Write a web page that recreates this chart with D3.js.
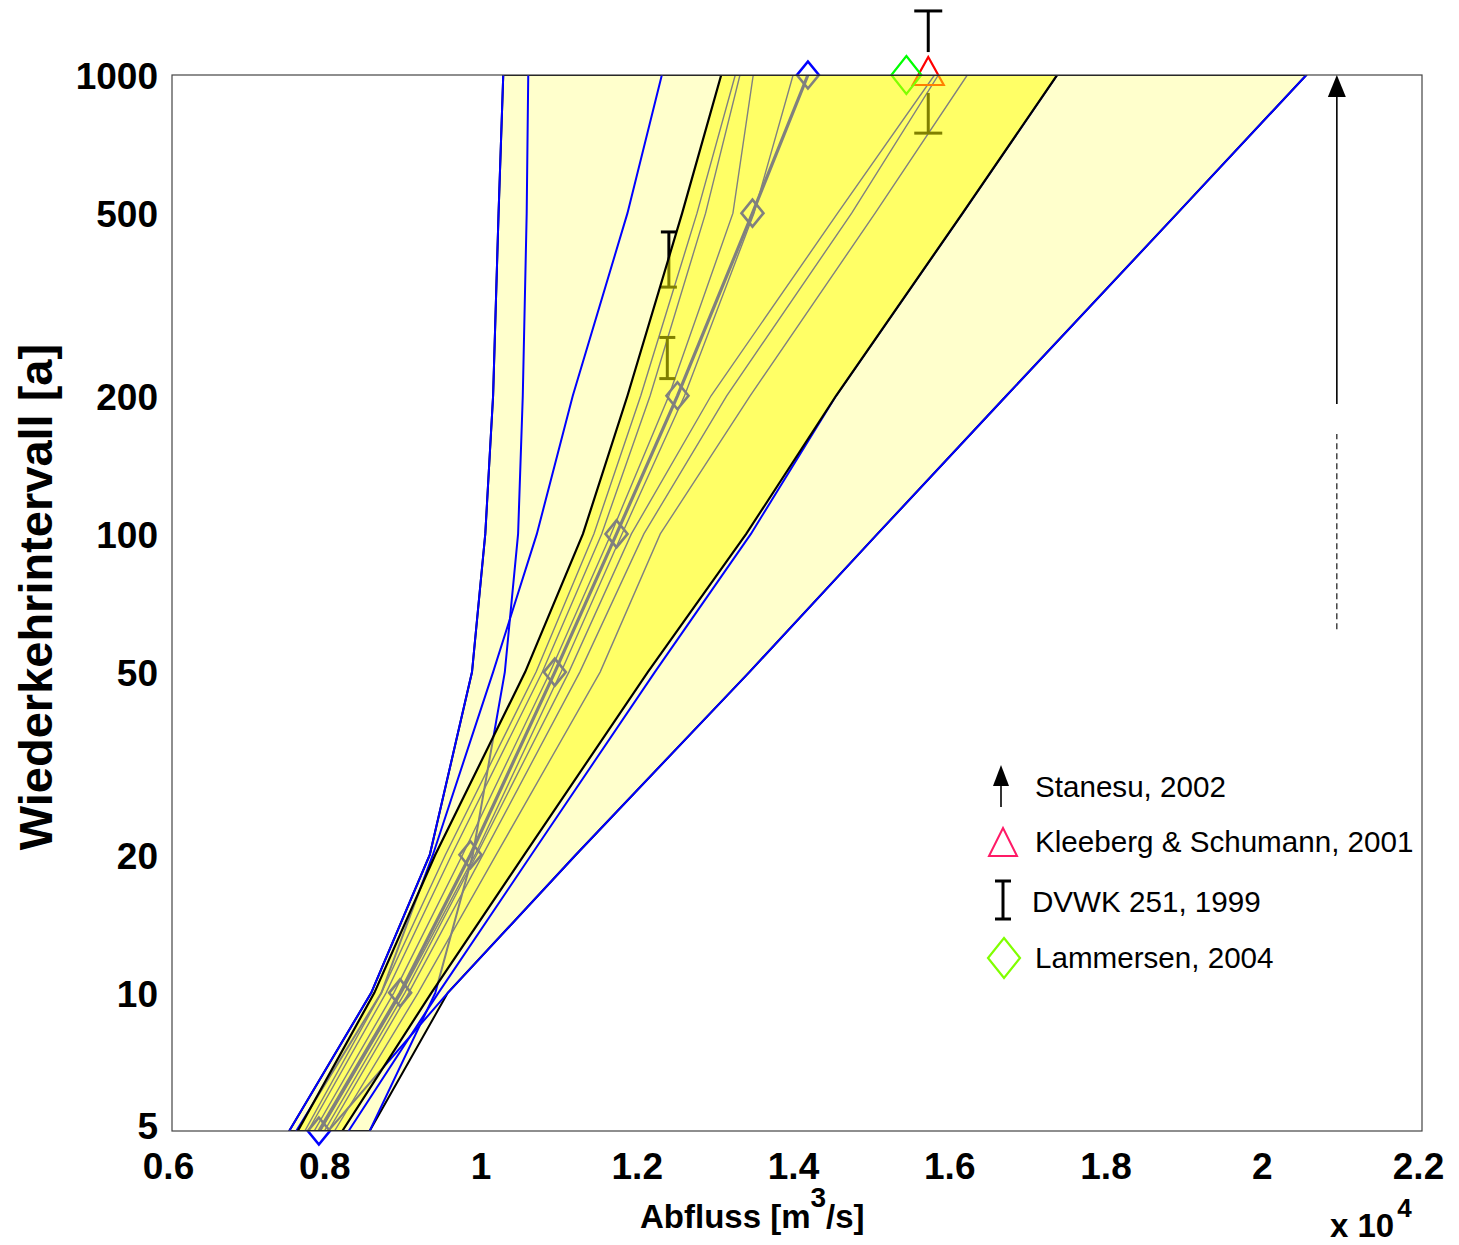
<!DOCTYPE html>
<html>
<head>
<meta charset="utf-8">
<script src="https://cdnjs.cloudflare.com/ajax/libs/d3/7.8.5/d3.min.js"></script>
<style>
  body { margin: 0; background: #fff; }
  text { font-family: "Liberation Sans", Arial, sans-serif; }
</style>
</head>
<body>
<div id="chart"></div>
<script>
// return periods (y axis, log) and discharges in 10^4 m3/s
var returnPeriods = [5, 10, 20, 50, 100, 200, 500, 1000];

// main fit (thick line with diamonds)
var mainFit   = [0.788, 0.892, 0.982, 1.090, 1.169, 1.247, 1.343, 1.414];
// yellow band bounds
var bandLow   = [0.761, 0.859, 0.937, 1.052, 1.126, 1.183, 1.253, 1.303];
var bandHigh  = [0.818, 0.932, 1.051, 1.209, 1.335, 1.450, 1.612, 1.733];

// other fitted curves (blue)
var curveA = [0.750, 0.855, 0.930, 0.984, 1.001, 1.011, 1.018, 1.024];
var curveB = [0.853, 0.937, 0.985, 1.026, 1.043, 1.049, 1.054, 1.056];
var curveC = [0.759, 0.868, 0.934, 1.011, 1.067, 1.113, 1.183, 1.227];
var curveD = [0.800, 0.953, 1.117, 1.339, 1.503, 1.668, 1.887, 2.052];
var curveE = [0.826, 0.941, 1.060, 1.218, 1.341, 1.450, 1.612, 1.733];
var fitA = [0.770, 0.868, 0.950, 1.066, 1.140, 1.200, 1.272, 1.321];
var fitB = [0.774, 0.874, 0.958, 1.074, 1.150, 1.212, 1.283, 1.327];
var fitC = [0.782, 0.884, 0.972, 1.084, 1.162, 1.236, 1.318, 1.344];
var fitD = [0.790, 0.894, 0.988, 1.098, 1.176, 1.256, 1.345, 1.395];
var fitE = [0.795, 0.898, 0.990, 1.108, 1.188, 1.290, 1.452, 1.576];
var fitF = [0.800, 0.903, 0.998, 1.122, 1.204, 1.310, 1.470, 1.581];
var fitG = [0.808, 0.915, 1.015, 1.148, 1.225, 1.340, 1.500, 1.618];

// literature values
var dvwkQ     = [1.568, 1.236, 1.234];
var dvwkLow   = [747, 345, 218];
var dvwkHigh  = [1379, 455, 268];
var dvwkGap   = [[914, 1122], null, null];
var kleebergQ = 1.568, kleebergT = 1000;
var lammersenQ = 1.540, lammersenT = 1000;
var stanesuQ = 2.091, stanesuSolid = [192, 1000], stanesuDashed = [62, 165];

var xTicks = [0.6, 0.8, 1.0, 1.2, 1.4, 1.6, 1.8, 2.0, 2.2];
var yTicks = [5, 10, 20, 50, 100, 200, 500, 1000];

var legendLabels = ["Stanesu, 2002", "Kleeberg & Schumann, 2001", "DVWK 251, 1999", "Lammersen, 2004"];

// ---------------------------------------------------------------
var W = 1459, H = 1245;
var margin = { top: 75, right: 37, bottom: 114, left: 172 };
var width = W - margin.left - margin.right,
    height = H - margin.top - margin.bottom;

var svg = d3.select("#chart").append("svg")
    .attr("width", W)
    .attr("height", H);

var g = svg.append("g")
    .attr("transform", "translate(" + margin.left + "," + margin.top + ")");

var x = d3.scaleLinear().domain([0.6, 2.2]).range([0, width]);
var y = d3.scaleLog().domain([5, 1000]).range([height, 0]);

svg.append("defs").append("clipPath").attr("id", "plotClip")
  .append("rect").attr("width", width).attr("height", height);

function rows(vals) {
    return returnPeriods.map(function(t, i) { return { t: t, q: vals[i] }; });
}

var line = d3.line()
    .x(function(d) { return x(d.q); })
    .y(function(d) { return y(d.t); });

var blueCurves = [curveA, curveB, curveC, curveD, curveE,
                  fitA, fitB, fitC, fitD, fitE, fitF, fitG];
var allCurves = blueCurves.concat([mainFit]);

// outer envelope (light yellow)
var envelope = returnPeriods.map(function(t, i) {
    return { t: t,
             lo: d3.min(allCurves, function(c) { return c[i]; }),
             hi: d3.max(allCurves, function(c) { return c[i]; }) };
});
var band = returnPeriods.map(function(t, i) {
    return { t: t, lo: bandLow[i], hi: bandHigh[i] };
});

var area = d3.area()
    .y(function(d) { return y(d.t); })
    .x0(function(d) { return x(d.lo); })
    .x1(function(d) { return x(d.hi); });

var clipped = g.append("g").attr("clip-path", "url(#plotClip)");

clipped.append("path")
    .datum(envelope)
    .attr("d", area)
    .attr("fill", "#ffffcc")
    .attr("stroke", "#000")
    .attr("stroke-width", 2);

clipped.selectAll(".fit")
    .data(blueCurves)
    .enter().append("path")
    .attr("class", "fit")
    .attr("d", function(c) { return line(rows(c)); })
    .attr("fill", "none")
    .attr("stroke", "#0000ff")
    .attr("stroke-width", function(c, i) { return i < 5 ? 2 : 1.4; });

clipped.append("path")
    .datum(rows(mainFit))
    .attr("d", line)
    .attr("fill", "none")
    .attr("stroke", "#0000ff")
    .attr("stroke-width", 3.2);

function diamond(hw, hh) {
    return "M0," + (-hh) + "L" + hw + ",0L0," + hh + "L" + (-hw) + ",0Z";
}

// markers of the main fit (not clipped)
g.selectAll(".mk")
    .data(rows(mainFit))
    .enter().append("path")
    .attr("class", "mk")
    .attr("transform", function(d) { return "translate(" + x(d.q) + "," + y(d.t) + ")"; })
    .attr("d", diamond(11, 13.5))
    .attr("fill", "none")
    .attr("stroke", "#0000ff")
    .attr("stroke-width", 2.6);

// DVWK error bars
var capW = [28, 16, 16];
dvwkQ.forEach(function(q, i) {
    var bx = x(q);
    var segs = dvwkGap[i] ? [[dvwkLow[i], dvwkGap[i][0]], [dvwkGap[i][1], dvwkHigh[i]]]
                          : [[dvwkLow[i], dvwkHigh[i]]];
    segs.forEach(function(s) {
        g.append("line").attr("x1", bx).attr("x2", bx)
            .attr("y1", y(s[0])).attr("y2", y(s[1]))
            .attr("stroke", "#000").attr("stroke-width", 3);
    });
    [dvwkLow[i], dvwkHigh[i]].forEach(function(t) {
        g.append("line")
            .attr("x1", bx - capW[i] / 2).attr("x2", bx + capW[i] / 2)
            .attr("y1", y(t)).attr("y2", y(t))
            .attr("stroke", "#000").attr("stroke-width", 3);
    });
});

// Kleeberg triangle
g.append("path")
    .attr("transform", "translate(" + x(kleebergQ) + "," + y(kleebergT) + ")")
    .attr("d", "M0,-18L15.5,10L-15.5,10Z")
    .attr("fill", "none").attr("stroke", "#ff0000").attr("stroke-width", 2.2);

// Lammersen diamond
g.append("path")
    .attr("transform", "translate(" + x(lammersenQ) + "," + y(lammersenT) + ")")
    .attr("d", diamond(15, 19))
    .attr("fill", "none").attr("stroke", "#00ff00").attr("stroke-width", 2.2);

// yellow band, semi transparent on top
g.append("path")
    .datum(band)
    .attr("clip-path", "url(#plotClip)")
    .attr("d", area)
    .attr("fill", "#ffff00")
    .attr("fill-opacity", 0.5)
    .attr("stroke", "#000")
    .attr("stroke-width", 2.2);

// frame
g.append("rect")
    .attr("width", width).attr("height", height)
    .attr("fill", "none").attr("stroke", "#444").attr("stroke-width", 1.2);

// Stanesu arrow
var ax = x(stanesuQ);
g.append("line").attr("x1", ax).attr("x2", ax)
    .attr("y1", y(stanesuSolid[0])).attr("y2", y(stanesuSolid[1]) + 18)
    .attr("stroke", "#000").attr("stroke-width", 1.6);
g.append("path")
    .attr("d", "M" + ax + "," + y(stanesuSolid[1]) + "l-9,22l18,0z")
    .attr("fill", "#000");
g.append("line").attr("x1", ax).attr("x2", ax)
    .attr("y1", y(stanesuDashed[0])).attr("y2", y(stanesuDashed[1]))
    .attr("stroke", "#000").attr("stroke-width", 1.1)
    .attr("stroke-dasharray", "6,4");

// axes
var xAxis = d3.axisBottom(x).tickValues(xTicks).tickSize(0).tickPadding(0)
    .tickFormat(function(d) { return d3.format("~g")(d); });
var yAxis = d3.axisLeft(y).tickValues(yTicks).tickSize(0).tickPadding(14)
    .tickFormat(d3.format("d"));

var gx = g.append("g").attr("transform", "translate(0," + height + ")").call(xAxis);
var gy = g.append("g").call(yAxis);
gx.select(".domain").remove();
gy.select(".domain").remove();
gx.selectAll("text")
    .attr("y", 48).attr("dy", null).attr("dx", -4)
    .style("font-size", "37px").style("font-weight", "bold")
    .style("font-family", "'Liberation Sans', Arial, sans-serif").attr("fill", "#000");
gy.selectAll("text")
    .attr("dy", function(d) { return d === 5 ? "0.2em" : "0.36em"; })
    .style("font-size", "37px").style("font-weight", "bold")
    .style("font-family", "'Liberation Sans', Arial, sans-serif").attr("fill", "#000");

// axis titles
svg.append("text")
    .attr("transform", "translate(52,597) rotate(-90)")
    .attr("text-anchor", "middle")
    .style("font-size", "47px").style("font-weight", "bold")
    .text("Wiederkehrintervall [a]");

var xt = svg.append("text")
    .attr("x", 640).attr("y", 1228)
    .style("font-size", "33px").style("font-weight", "bold");
xt.append("tspan").text("Abfluss [m");
xt.append("tspan").attr("dy", -21).style("font-size", "28px").text("3");
xt.append("tspan").attr("dy", 21).text("/s]");

var sc = svg.append("text")
    .attr("x", 1330).attr("y", 1237)
    .style("font-size", "33px").style("font-weight", "bold");
sc.append("tspan").text("x 10");
sc.append("tspan").attr("dy", -20).attr("dx", 3).style("font-size", "26px").text("4");

// legend
var lg = svg.append("g");
var ly = [787, 842, 902, 958];
lg.selectAll("text")
    .data(legendLabels)
    .enter().append("text")
    .attr("x", function(d, i) { return i == 2 ? 1032 : 1035; })
    .attr("y", function(d, i) { return ly[i]; })
    .attr("dy", "0.35em")
    .style("font-size", "29.6px")
    .text(function(d) { return d; });

lg.append("line").attr("x1", 1001).attr("x2", 1001).attr("y1", 781).attr("y2", 807)
    .attr("stroke", "#000").attr("stroke-width", 1.6);
lg.append("path").attr("d", "M1001,765l-8,21l16,0z").attr("fill", "#000");
lg.append("path").attr("transform", "translate(1003,842)")
    .attr("d", "M0,-14L14,14L-14,14Z")
    .attr("fill", "none").attr("stroke", "#ff1a66").attr("stroke-width", 2);
lg.append("line").attr("x1", 1003).attr("x2", 1003).attr("y1", 881).attr("y2", 919)
    .attr("stroke", "#000").attr("stroke-width", 3);
[881, 919].forEach(function(v) {
    lg.append("line").attr("x1", 995).attr("x2", 1011).attr("y1", v).attr("y2", v)
        .attr("stroke", "#000").attr("stroke-width", 3);
});
lg.append("path").attr("transform", "translate(1004,958)")
    .attr("d", diamond(16, 20))
    .attr("fill", "none").attr("stroke", "#80ff00").attr("stroke-width", 2.2);
</script>
</body>
</html>
